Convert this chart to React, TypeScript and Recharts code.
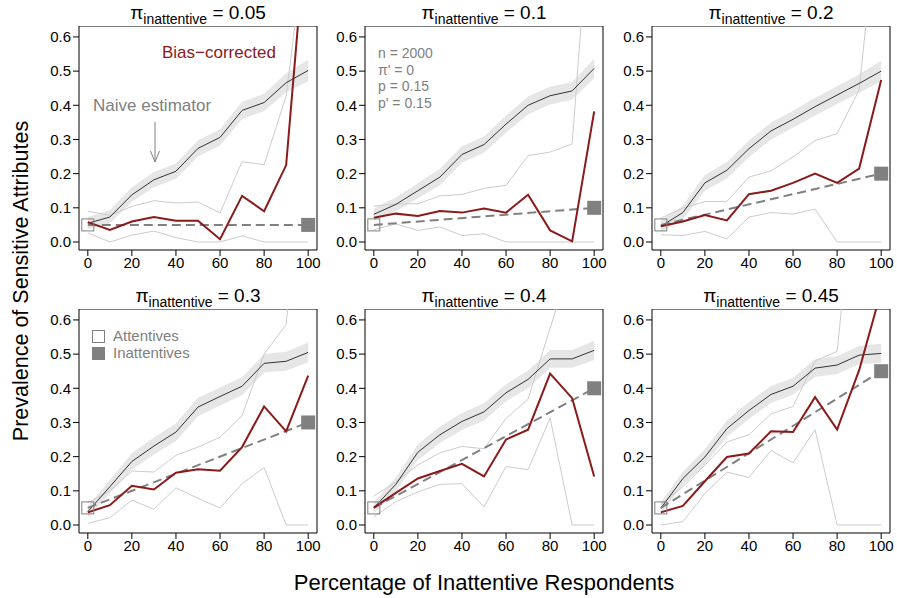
import React from 'react';
import { ComposedChart, Area, Line, Scatter, XAxis, YAxis, ReferenceArea } from 'recharts';

// share of inattentive respondents (x axis)
const pctInattentive = [0, 10, 20, 30, 40, 50, 60, 70, 80, 90, 100];
const xTicks = [0, 20, 40, 60, 80, 100];
const yTicks = [0, 0.1, 0.2, 0.3, 0.4, 0.5, 0.6];

const piValues = [0.05, 0.1, 0.2, 0.3, 0.4, 0.45];
const piLabels = ['0.05', '0.1', '0.2', '0.3', '0.4', '0.45'];
const piAttentive = 0.05;

// naive estimator
const naive05 = [0.055, 0.073, 0.138, 0.182, 0.207, 0.274, 0.306, 0.385, 0.408, 0.466, 0.502];
const naive10 = [0.081, 0.110, 0.150, 0.190, 0.256, 0.285, 0.345, 0.400, 0.428, 0.442, 0.508];
const naive20 = [0.046, 0.086, 0.173, 0.210, 0.273, 0.325, 0.359, 0.396, 0.430, 0.464, 0.500];
const naive30 = [0.039, 0.112, 0.186, 0.231, 0.272, 0.345, 0.376, 0.406, 0.473, 0.479, 0.505];
const naive40 = [0.050, 0.119, 0.213, 0.264, 0.303, 0.331, 0.387, 0.426, 0.486, 0.486, 0.511];
const naive45 = [0.049, 0.136, 0.199, 0.282, 0.335, 0.382, 0.406, 0.459, 0.468, 0.497, 0.502];

// grey band around the naive estimator
const bandLo05 = [0.037, 0.055, 0.118, 0.160, 0.185, 0.250, 0.282, 0.360, 0.383, 0.438, 0.470];
const bandHi05 = [0.073, 0.093, 0.160, 0.205, 0.230, 0.298, 0.330, 0.410, 0.434, 0.494, 0.533];
const bandLo10 = [0.063, 0.090, 0.128, 0.166, 0.232, 0.261, 0.320, 0.374, 0.402, 0.416, 0.480];
const bandHi10 = [0.099, 0.130, 0.172, 0.214, 0.280, 0.309, 0.370, 0.426, 0.454, 0.468, 0.536];
const bandLo20 = [0.028, 0.066, 0.150, 0.186, 0.249, 0.300, 0.334, 0.370, 0.404, 0.437, 0.470];
const bandHi20 = [0.064, 0.106, 0.196, 0.234, 0.297, 0.350, 0.384, 0.422, 0.456, 0.491, 0.530];
const bandLo30 = [0.022, 0.092, 0.162, 0.206, 0.246, 0.318, 0.350, 0.380, 0.446, 0.451, 0.476];
const bandHi30 = [0.056, 0.132, 0.210, 0.256, 0.298, 0.372, 0.402, 0.432, 0.500, 0.507, 0.534];
const bandLo40 = [0.034, 0.099, 0.190, 0.240, 0.278, 0.306, 0.362, 0.400, 0.460, 0.460, 0.483];
const bandHi40 = [0.066, 0.139, 0.236, 0.288, 0.328, 0.356, 0.412, 0.452, 0.512, 0.512, 0.539];
const bandLo45 = [0.032, 0.116, 0.176, 0.258, 0.310, 0.357, 0.381, 0.433, 0.442, 0.470, 0.474];
const bandHi45 = [0.066, 0.156, 0.222, 0.306, 0.360, 0.407, 0.431, 0.485, 0.494, 0.524, 0.530];

// bias-corrected estimator
const bias05 = [0.058, 0.035, 0.060, 0.073, 0.062, 0.062, 0.008, 0.135, 0.090, 0.225, 0.99];
const bias10 = [0.071, 0.083, 0.076, 0.091, 0.086, 0.098, 0.086, 0.138, 0.034, 0.002, 0.382];
const bias20 = [0.046, 0.060, 0.079, 0.063, 0.140, 0.150, 0.173, 0.200, 0.173, 0.215, 0.474];
const bias30 = [0.037, 0.058, 0.115, 0.104, 0.153, 0.163, 0.159, 0.228, 0.347, 0.274, 0.437];
const bias40 = [0.051, 0.094, 0.136, 0.158, 0.179, 0.142, 0.250, 0.279, 0.443, 0.371, 0.142];
const bias45 = [0.037, 0.056, 0.128, 0.199, 0.209, 0.274, 0.272, 0.374, 0.279, 0.453, 0.685];

// interval of the bias-corrected estimator
const ciUp05 = [0.090, 0.078, 0.104, 0.121, 0.114, 0.117, 0.085, 0.235, 0.226, 0.427, 0.95];
const ciLo05 = [0.027, 0.0, 0.020, 0.032, 0.013, 0.0, 0.0, 0.018, 0.0, 0.0, 0.0];
const ciUp10 = [0.105, 0.111, 0.112, 0.135, 0.139, 0.157, 0.166, 0.253, 0.263, 0.287, 1.15];
const ciLo10 = [0.036, 0.053, 0.034, 0.044, 0.019, 0.024, 0.0, 0.0, 0.0, 0.0, 0.0];
const ciUp20 = [0.070, 0.099, 0.118, 0.119, 0.190, 0.208, 0.249, 0.297, 0.317, 0.445, 1.07];
const ciLo20 = [0.021, 0.019, 0.031, 0.009, 0.073, 0.086, 0.082, 0.096, 0.0, 0.0, 0.0];
const ciUp30 = [0.065, 0.100, 0.158, 0.155, 0.204, 0.228, 0.257, 0.320, 0.500, 0.587, 1.2];
const ciLo30 = [0.005, 0.021, 0.073, 0.046, 0.109, 0.078, 0.050, 0.121, 0.168, 0.0, 0.0];
const ciUp40 = [0.084, 0.126, 0.176, 0.211, 0.230, 0.223, 0.312, 0.368, 0.576, 0.78, 0.9];
const ciLo40 = [0.024, 0.068, 0.097, 0.119, 0.121, 0.053, 0.171, 0.162, 0.313, 0.0, 0.0];
const ciUp45 = [0.060, 0.112, 0.175, 0.243, 0.264, 0.325, 0.347, 0.480, 0.508, 1.13, 1.2];
const ciLo45 = [0.0, 0.010, 0.092, 0.155, 0.139, 0.218, 0.182, 0.279, 0.0, 0.0, 0.0];

const panels = [
  { naive: naive05, lo: bandLo05, hi: bandHi05, bias: bias05, up: ciUp05, down: ciLo05 },
  { naive: naive10, lo: bandLo10, hi: bandHi10, bias: bias10, up: ciUp10, down: ciLo10 },
  { naive: naive20, lo: bandLo20, hi: bandHi20, bias: bias20, up: ciUp20, down: ciLo20 },
  { naive: naive30, lo: bandLo30, hi: bandHi30, bias: bias30, up: ciUp30, down: ciLo30 },
  { naive: naive40, lo: bandLo40, hi: bandHi40, bias: bias40, up: ciUp40, down: ciLo40 },
  { naive: naive45, lo: bandLo45, hi: bandHi45, bias: bias45, up: ciUp45, down: ciLo45 },
];

const FONT = '"Liberation Sans", Arial, Helvetica, sans-serif';
const colLeft = [79, 365, 652];
const rowTop = [26, 309];
const PW = 238;
const PH = 224;
const YW = 50;
const XD: [number, number] = [-4, 104];
const YD: [number, number] = [-0.0234, 0.632];
const RED = '#8B1A1A';
const GREY = '#808080';

const SquareOpen = (p: any) => (
  <rect x={p.cx - 6} y={p.cy - 6} width={12} height={12} fill="none" stroke={GREY} strokeWidth={1} />
);
const SquareFilled = (p: any) => (
  <rect x={p.cx - 7} y={p.cy - 7} width={14} height={14} fill={GREY} stroke="none" />
);

const tickStyle = { fill: '#000', fontSize: 15, fontFamily: FONT };

const Panel = ({ idx }: { idx: number }) => {
  const p = panels[idx];
  const pi = piValues[idx];
  const rows = pctInattentive.map((x, i) => ({
    x,
    naive: p.naive[i],
    band: [p.lo[i], p.hi[i]],
    bias: p.bias[i],
    up: p.up[i],
    down: p.down[i],
  }));
  const truth = [
    { x: 0, truth: piAttentive },
    { x: 100, truth: pi },
  ];
  const left = colLeft[idx % 3] - YW;
  const top = rowTop[Math.floor(idx / 3)];
  return (
    <div style={{ position: 'absolute', left, top }}>
      <ComposedChart width={YW + PW + 12} height={PH + 30} data={rows} margin={{ top: 0, right: 12, bottom: 0, left: 0 }}>
        <XAxis
          dataKey="x"
          type="number"
          domain={XD}
          ticks={xTicks}
          allowDataOverflow
          height={30}
          axisLine={false}
          tickSize={6}
          tickMargin={1}
          tickLine={{ stroke: '#000' }}
          tick={tickStyle}
          interval={0}
        />
        <YAxis
          type="number"
          domain={YD}
          ticks={yTicks}
          allowDataOverflow
          width={YW}
          axisLine={false}
          tickSize={6}
          tickMargin={2}
          tickLine={{ stroke: '#000' }}
          tick={tickStyle}
          interval={0}
          tickFormatter={(v: number) => v.toFixed(1)}
        />
        <Area type="linear" dataKey="band" stroke="none" fill="#e6e6e6" fillOpacity={1} isAnimationActive={false} activeDot={false} />
        <Line type="linear" dataKey="up" stroke="#cccccc" strokeWidth={1} dot={false} activeDot={false} isAnimationActive={false} />
        <Line type="linear" dataKey="down" stroke="#cccccc" strokeWidth={1} dot={false} activeDot={false} isAnimationActive={false} />
        <Line type="linear" dataKey="naive" stroke="#333333" strokeWidth={1} dot={false} activeDot={false} isAnimationActive={false} />
        <Line type="linear" data={truth} dataKey="truth" stroke={GREY} strokeWidth={2} strokeDasharray="9 5" dot={false} activeDot={false} isAnimationActive={false} />
        <Line type="linear" dataKey="bias" stroke={RED} strokeWidth={2} dot={false} activeDot={false} isAnimationActive={false} />
        <Scatter data={[truth[0]]} dataKey="truth" shape={SquareOpen} isAnimationActive={false} />
        <Scatter data={[truth[1]]} dataKey="truth" shape={SquareFilled} isAnimationActive={false} />
        <ReferenceArea x1={XD[0]} x2={XD[1]} y1={YD[0]} y2={YD[1]} fill="none" stroke="#000" strokeWidth={1} ifOverflow="visible" />
      </ComposedChart>
    </div>
  );
};

export default function App() {
  return (
    <div style={{ position: 'absolute', left: 0, top: 0, width: 897, height: 598, background: '#fff', fontFamily: FONT }}>
      {panels.map((_, i) => (
        <Panel key={i} idx={i} />
      ))}
      <svg width={897} height={598} style={{ position: 'absolute', left: 0, top: 0, pointerEvents: 'none' }}>
        {piLabels.map((lab, i) => {
          const cx = colLeft[i % 3] + PW / 2;
          const by = i < 3 ? 19 : 302;
          return (
            <text key={lab} x={cx} y={by} textAnchor="middle" fontFamily={FONT} fill="#000">
              <tspan fontSize={19}>π</tspan>
              <tspan fontSize={14} dy={5}>inattentive</tspan>
              <tspan fontSize={19} dy={-5}>{' = ' + lab}</tspan>
            </text>
          );
        })}
        <text x={484} y={590} textAnchor="middle" fontFamily={FONT} fontSize={22} fill="#000">
          Percentage of Inattentive Respondents
        </text>
        <text x={28} y={281} textAnchor="middle" fontFamily={FONT} fontSize={21.5} fill="#000" transform="rotate(-90 28 281)">
          Prevalence of Sensitive Attributes
        </text>
        <text x={162} y={58} fontFamily={FONT} fontSize={17} fill={RED}>
          Bias−corrected
        </text>
        <text x={93} y={111} fontFamily={FONT} fontSize={17} fill={GREY}>
          Naive estimator
        </text>
        <line x1={155} y1={122} x2={155} y2={162} stroke={GREY} strokeWidth={1} />
        <polyline points="150.5,151 155,162 159.5,151" fill="none" stroke={GREY} strokeWidth={1} />
        {['n = 2000', "π' = 0", 'p = 0.15', "p' = 0.15"].map((t, i) => (
          <text key={t} x={378} y={58 + i * 16.7} fontFamily={FONT} fontSize={14} fill={GREY}>
            {t}
          </text>
        ))}
        <rect x={92.5} y={330.5} width={12} height={12} fill="none" stroke={GREY} strokeWidth={1} />
        <rect x={92} y={347} width={13} height={13} fill={GREY} />
        <text x={113} y={341} fontFamily={FONT} fontSize={15} fill={GREY}>
          Attentives
        </text>
        <text x={113} y={358} fontFamily={FONT} fontSize={15} fill={GREY}>
          Inattentives
        </text>
      </svg>
    </div>
  );
}
